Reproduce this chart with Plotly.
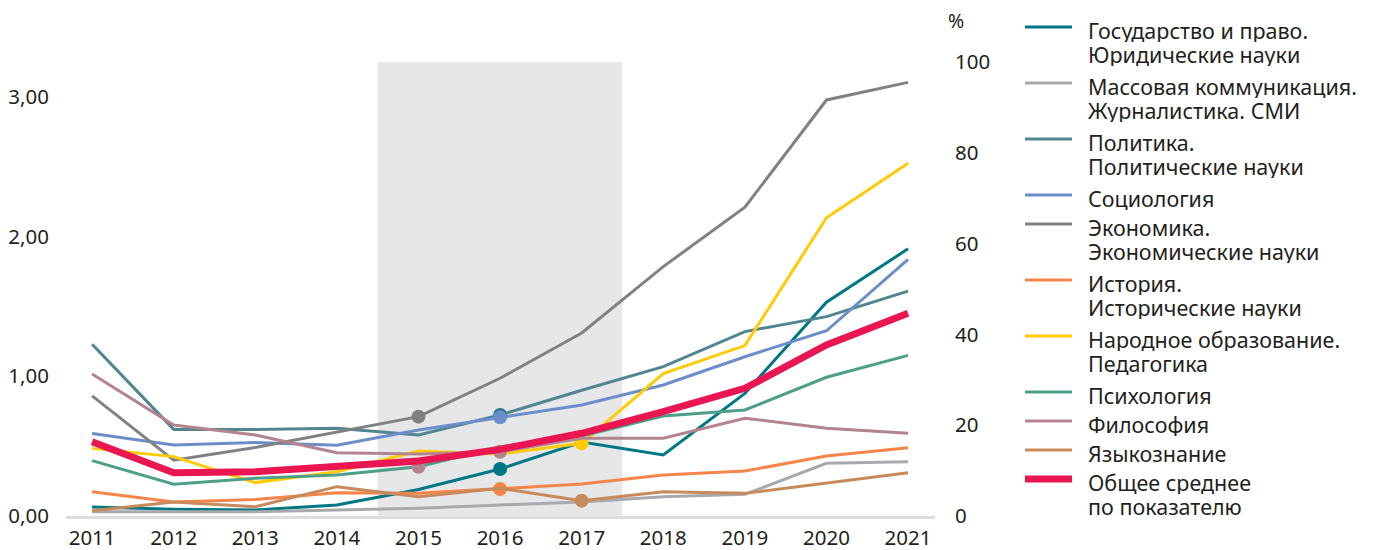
import plotly.graph_objects as go

years = list(range(2011, 2022))

names = [
    "Государство и право.<br>Юридические науки",
    "Массовая коммуникация.<br>Журналистика. СМИ",
    "Политика.<br>Политические науки",
    "Социология",
    "Экономика.<br>Экономические науки",
    "История.<br>Исторические науки",
    "Народное образование.<br>Педагогика",
    "Психология",
    "Философия",
    "Языкознание",
    "Общее среднее<br>по показателю",
]

law = [0.064, 0.048, 0.043, 0.079, 0.19, 0.336, 0.53, 0.437, 0.878, 1.53, 1.913]
media = [0.03, 0.03, 0.03, 0.043, 0.055, 0.079, 0.10, 0.138, 0.155, 0.377, 0.389]
politics = [1.23, 0.62, 0.62, 0.628, 0.58, 0.723, 0.90, 1.069, 1.32, 1.427, 1.61]
sociology = [0.59, 0.508, 0.527, 0.506, 0.615, 0.706, 0.795, 0.938, 1.14, 1.326, 1.837]
economics = [0.86, 0.40, 0.49, 0.60, 0.711, 0.986, 1.31, 1.785, 2.21, 2.978, 3.104]
history = [0.174, 0.10, 0.119, 0.167, 0.162, 0.193, 0.229, 0.293, 0.322, 0.43, 0.489]
pedagogy = [0.484, 0.425, 0.239, 0.317, 0.465, 0.444, 0.52, 1.02, 1.22, 2.135, 2.525]
psychology = [0.396, 0.227, 0.27, 0.293, 0.353, 0.496, 0.573, 0.716, 0.759, 0.993, 1.15]
philosophy = [1.016, 0.651, 0.58, 0.453, 0.444, 0.46, 0.556, 0.556, 0.70, 0.628, 0.592]
linguistics = [0.038, 0.10, 0.067, 0.21, 0.138, 0.198, 0.11, 0.174, 0.162, 0.234, 0.31]
overall = [0.532, 0.31, 0.317, 0.353, 0.394, 0.477, 0.592, 0.747, 0.914, 1.224, 1.451]

series_values = [law, media, politics, sociology, economics, history,
                 pedagogy, psychology, philosophy, linguistics, overall]

colors = ["#007784", "#a7a9ac", "#518590", "#6b8dca", "#808184", "#f58549",
          "#ffcb05", "#4d9f8a", "#b3848f", "#c8895b", "#ea1651"]
widths = [3, 3, 3, 3, 3, 3, 3, 3, 3, 3, 7]

# highlighted points (series index, year, value)
hl_series = [4, 8, 2, 3, 8, 0, 5, 6, 9]
hl_years = [2015, 2015, 2016, 2016, 2016, 2016, 2016, 2017, 2017]
hl_values = [0.711, 0.353, 0.723, 0.706, 0.46, 0.336, 0.193, 0.52, 0.11]
hl_colors = ["#808184", "#b3848f", "#1f7683", "#6b8dca", "#b3848f", "#007784",
             "#f58549", "#ffcb05", "#c8895b"]

left_ticks = [0, 1, 2, 3]
left_ticktext = ["0,00", "1,00", "2,00", "3,00"]
right_ticks = [0, 20, 40, 60, 80, 100]

FONT = "Noto Sans"
TXT = "#231f20"
TICK_SIZE = 20.5
LEG_SIZE = 21.5

fig = go.Figure()

for i, vals in enumerate(series_values):
    fig.add_trace(go.Scatter(
        x=years, y=vals, mode="lines", name=names[i],
        line=dict(color=colors[i], width=widths[i]),
        showlegend=False, hoverinfo="skip"))
    hx = [hl_years[k] for k in range(len(hl_series)) if hl_series[k] == i]
    hy = [hl_values[k] for k in range(len(hl_series)) if hl_series[k] == i]
    hc = [hl_colors[k] for k in range(len(hl_series)) if hl_series[k] == i]
    if hx:
        fig.add_trace(go.Scatter(
            x=hx, y=hy, mode="markers",
            marker=dict(color=hc, size=14, line=dict(width=0)),
            showlegend=False, hoverinfo="skip"))

# dummy trace for right axis
fig.add_trace(go.Scatter(x=[years[0]], y=[0], yaxis="y2", mode="markers",
                         marker=dict(opacity=0), showlegend=False, hoverinfo="skip"))

Y_MAX = 3.35
PCT_TOP = 3.25  # left value corresponding to 100 %

fig.add_shape(type="rect", xref="x", yref="y", x0=2014.5, x1=2017.5, y0=0, y1=PCT_TOP,
              fillcolor="#e6e7e8", line=dict(width=0), layer="below")

# page body has an 8px margin: figure geometry is given relative to it
OFF = 8
W, H = 1373 - OFF, 550 - OFF
L, R, T, B = 58, 438, 40, 34
PW, PH = W - L - R, H - T - B


def px(x):
    return (x - OFF - L) / PW


def py(y):
    return (H - B - (y - OFF)) / PH


# manual legend
ly = 27
for i, nm in enumerate(names):
    lines = nm.split("<br>")
    fig.add_shape(type="line", xref="paper", yref="paper",
                  x0=px(1025), x1=px(1072), y0=py(ly), y1=py(ly),
                  line=dict(color=colors[i], width=widths[i] if i == 10 else 3))
    for j, t in enumerate(lines):
        fig.add_annotation(xref="paper", yref="paper", x=px(1087), y=py(ly + 3 + 24 * j),
                           text=t, showarrow=False, xanchor="left", yanchor="middle",
                           align="left", height=24, borderpad=0, valign="middle",
                           font=dict(family=FONT, size=LEG_SIZE, color=TXT))
    ly += 29 + 27 * (len(lines) - 1)

fig.add_annotation(xref="paper", yref="paper", x=px(956), y=py(21), text="%",
                   showarrow=False, xanchor="center", yanchor="middle",
                   font=dict(family=FONT, size=LEG_SIZE - 2, color=TXT))

fig.update_layout(
    width=W, height=H,
    margin=dict(l=L, r=R, t=T, b=B, autoexpand=False),
    paper_bgcolor="white", plot_bgcolor="white",
    font=dict(family=FONT, size=TICK_SIZE, color=TXT),
    xaxis=dict(range=[2010.68, 2021.33], tickvals=years, showgrid=False, zeroline=False,
               showline=True, linecolor="#dcdddf", linewidth=3, automargin=False,
               ticks="outside", ticklen=1, tickcolor="rgba(0,0,0,0)",
               tickfont=dict(family=FONT, size=TICK_SIZE, color=TXT)),
    yaxis=dict(range=[0, Y_MAX], tickvals=left_ticks, ticktext=left_ticktext,
               showgrid=False, zeroline=False, showline=False, automargin=False,
               ticks="outside", ticklen=12, tickcolor="rgba(0,0,0,0)",
               tickfont=dict(family=FONT, size=TICK_SIZE, color=TXT)),
    yaxis2=dict(range=[0, Y_MAX / PCT_TOP * 100], tickvals=right_ticks, overlaying="y",
                side="right", showgrid=False, zeroline=False, showline=False,
                automargin=False,
                ticks="outside", ticklen=15, tickcolor="rgba(0,0,0,0)",
                tickfont=dict(family=FONT, size=TICK_SIZE, color=TXT)),
)

fig.write_html("out.html")
